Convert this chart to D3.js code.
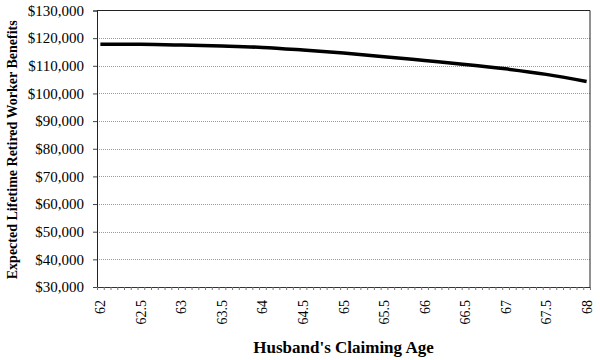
<!DOCTYPE html>
<html>
<head>
<meta charset="utf-8">
<script src="https://cdn.jsdelivr.net/npm/d3@7"></script>
<style>
  body { margin: 0; background: #fff; }
  svg { display: block; font-family: "Liberation Serif", "Times New Roman", Times, serif; }
  svg text { font-family: "Liberation Serif", "Times New Roman", Times, serif; }
</style>
</head>
<body>
<svg id="chart" width="600" height="360"></svg>
<script>
// ---- data ----
const ages = [62, 62.5, 63, 63.5, 64, 64.5, 65, 65.5, 66, 66.5, 67, 67.5, 68];
const benefits = [117800, 117750, 117500, 117150, 116650, 115700, 114600, 113300, 111900, 110500, 108900, 106900, 104300];
const yTicks = [30000, 40000, 50000, 60000, 70000, 80000, 90000, 100000, 110000, 120000, 130000];
const xTickLabels = ["62", "62.5", "63", "63.5", "64", "64.5", "65", "65.5", "66", "66.5", "67", "67.5", "68"];
const xTitle = "Husband's Claiming Age";
const yTitle = "Expected Lifetime Retired Worker Benefits";

// ---- layout ----
const svg = d3.select("#chart");
const m = { left: 97, right: 590, top: 10.5, bottom: 287 };
const half = 1 / 24; // half a month: categories are monthly
const x = d3.scaleLinear().domain([62 - half, 68 + half]).range([m.left, m.right]);
const y = d3.scaleLinear().domain([30000, 130000]).range([m.bottom, m.top]);

// gridlines
svg.append("g").selectAll("line").data(yTicks.filter(v => v > 30000 && v < 130000)).join("line")
  .attr("x1", m.left).attr("x2", m.right)
  .attr("y1", d => Math.round(y(d)) + 0.5).attr("y2", d => Math.round(y(d)) + 0.5)
  .attr("stroke", "#9a9a9a").attr("stroke-width", 1).attr("stroke-dasharray", "1,1");

// frame top/right
svg.append("path")
  .attr("d", `M${m.left},${m.top}H${m.right}V${m.bottom}`)
  .attr("fill", "none").attr("stroke", "#222").attr("stroke-width", 1);

// y axis
const yAxis = d3.axisLeft(y).tickValues(yTicks).tickSize(4).tickPadding(9)
  .tickFormat(d => "$" + d3.format(",")(d));
const gy = svg.append("g").attr("transform", `translate(${m.left},0)`).call(yAxis)
  .attr("font-family", null);
gy.select(".domain").attr("stroke", "#222");
gy.selectAll(".tick line").attr("stroke", "#444");
gy.selectAll("text").attr("font-size", 15).attr("fill", "#000");

// x axis: minor ticks at month boundaries
const monthBounds = d3.range(0, 74).map(k => 62 - half + k / 12);
const xAxis = d3.axisBottom(x).tickValues(monthBounds).tickSize(3).tickFormat("");
const gx = svg.append("g").attr("transform", `translate(0,${m.bottom})`).call(xAxis);
gx.select(".domain").attr("stroke", "#333");
gx.selectAll(".tick line").attr("stroke", "#777");

// x tick labels (rotated)
svg.append("g").selectAll("text").data(ages).join("text")
  .attr("transform", (d) => `translate(${x(d) + 5},${m.bottom + 13}) rotate(-90)`)
  .attr("text-anchor", "end")
  .attr("font-size", 14)
  .attr("fill", "#000")
  .text((d, i) => xTickLabels[i]);

// line
const line = d3.line().x((d, i) => x(ages[i])).y(d => y(d)).curve(d3.curveMonotoneX);
svg.append("path").datum(benefits)
  .attr("d", line)
  .attr("fill", "none").attr("stroke", "#000").attr("stroke-width", 3.5);

// titles
svg.append("text")
  .attr("x", (m.left + m.right) / 2).attr("y", 353)
  .attr("text-anchor", "middle").attr("font-weight", "bold").attr("font-size", 17)
  .text(xTitle);
svg.append("text")
  .attr("transform", `translate(17,${(m.top + m.bottom) / 2 + 1}) rotate(-90)`)
  .attr("text-anchor", "middle").attr("font-weight", "bold").attr("font-size", 14)
  .text(yTitle);
</script>
</body>
</html>
